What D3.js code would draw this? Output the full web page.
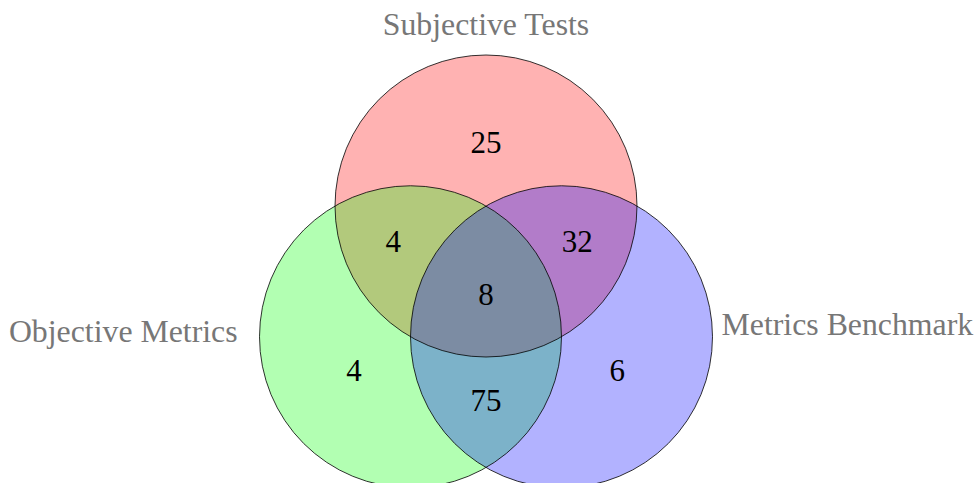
<!DOCTYPE html>
<html>
<head>
<meta charset="utf-8">
<script src="https://cdn.jsdelivr.net/npm/d3@7"></script>
<style>
  html, body { margin: 0; padding: 0; background: #fff; }
  svg { display: block; }
</style>
</head>
<body>
<svg id="chart" width="975" height="483"></svg>
<script>
// ---- data ----
const setNames = ["Subjective Tests", "Objective Metrics", "Metrics Benchmark"];
const setColors = ["#ff0000", "#00ff00", "#0000ff"];
// region labels: which sets the region belongs to, and its count
const regionSets = [["S"], ["S", "O"], ["S", "M"], ["S", "O", "M"], ["O"], ["M"], ["O", "M"]];
const regionValues = [25, 4, 32, 8, 4, 6, 75];

// ---- layout (unit geometry: radius 1, centres one radius apart) ----
const W = 975, H = 483;
const svg = d3.select("#chart");
const R = 151;
const x = d3.scaleLinear().domain([0, 1]).range([486, 486 + R]);
const y = d3.scaleLinear().domain([0, 1]).range([206, 206 + R]);
const s3 = Math.sqrt(3) / 2;
const centres = [
  { key: "S", u: 0, v: 0 },
  { key: "O", u: -0.5, v: s3 },
  { key: "M", u: 0.5, v: s3 }
];
// label anchor in unit geometry for each region
const regionPos = {
  "S": [0, -0.425],
  "S,O": [-0.615, 0.232],
  "S,M": [0.605, 0.232],
  "S,O,M": [0, 0.582],
  "O": [-0.875, 1.088],
  "M": [0.87, 1.088],
  "O,M": [0, 1.283]
};

const font = "'Liberation Serif', 'Times New Roman', serif";
const g = svg.append("g");
// fills in order: red, green, blue
g.selectAll("circle.fill")
  .data(centres)
  .join("circle")
  .attr("class", "fill")
  .attr("cx", d => x(d.u))
  .attr("cy", d => y(d.v))
  .attr("r", R)
  .attr("fill", (d, i) => setColors[i])
  .attr("fill-opacity", 0.3)
  .attr("stroke", "none");

g.selectAll("circle.outline")
  .data(centres)
  .join("circle")
  .attr("class", "outline")
  .attr("cx", d => x(d.u))
  .attr("cy", d => y(d.v))
  .attr("r", R)
  .attr("fill", "none")
  .attr("stroke", "#000")
  .attr("stroke-width", 0.8);

// region counts
g.selectAll("text.count")
  .data(regionValues.map((v, i) => ({ v, key: regionSets[i].join(",") })))
  .join("text")
  .attr("class", "count")
  .attr("x", d => x(regionPos[d.key][0]))
  .attr("y", d => y(regionPos[d.key][1]))
  .attr("dy", "0.35em")
  .attr("text-anchor", "middle")
  .attr("font-family", font)
  .attr("font-size", 31)
  .attr("fill", "#000")
  .text(d => d.v);

// set labels
const labelPos = [
  { u: 0, v: -1.135, anchor: "middle" },
  { u: -1.645, v: 0.9, anchor: "end" },
  { u: 1.56, v: 0.855, anchor: "start" }
];
g.selectAll("text.setlabel")
  .data(setNames)
  .join("text")
  .attr("class", "setlabel")
  .attr("x", (d, i) => x(labelPos[i].u))
  .attr("y", (d, i) => y(labelPos[i].v))
  .attr("text-anchor", (d, i) => labelPos[i].anchor)
  .attr("font-family", font)
  .attr("font-size", 31.8)
  .attr("fill", "#777")
  .text(d => d);
</script>
</body>
</html>
